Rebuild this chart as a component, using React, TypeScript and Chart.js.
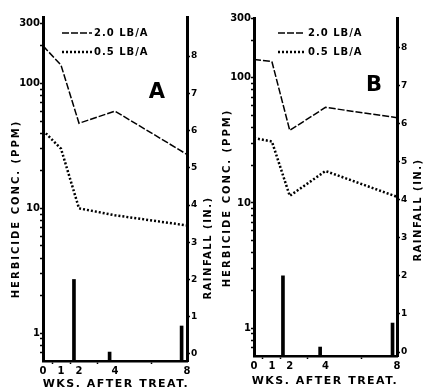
import React, { useEffect, useRef } from 'react';
import { Chart, registerables } from 'chart.js';

Chart.register(...registerables);

// ---------- data ----------
const WEEKS = [0, 1, 2, 4, 8];
const X_TICKS = [0, 1, 2, 4, 8];
const CONC_LABEL_TICKS = [1, 10, 100, 300];
const RAIN_TICKS = [0, 1, 2, 3, 4, 5, 6, 7, 8];
const SERIES_LABELS = ['2.0 LB/A', '0.5 LB/A'];

const A_HIGH = [200, 140, 48, 60, 27];
const A_LOW = [42, 30, 10, 8.8, 7.3];
const A_RAIN_WEEKS = [1.72, 3.7, 7.7];
const A_RAIN = [2.0, 0.05, 0.75];

const B_HIGH = [140, 135, 38, 58, 48];
const B_LOW = [33, 31, 11.4, 18, 11.2];
const B_RAIN_WEEKS = [1.62, 3.7, 7.75];
const B_RAIN = [2.0, 0.13, 0.76];

const Y_TITLE = 'HERBICIDE CONC. (PPM)';
const R_TITLE = 'RAINFALL (IN.)';
const X_TITLE = 'WKS. AFTER TREAT.';

// minor/major tick positions for the log axis (axis furniture, not data)
const CONC_ALL_TICKS: number[] = [];
[0.1, 1, 10, 100].forEach((d) => {
  for (let m = 1; m <= 9; m++) CONC_ALL_TICKS.push(+(m * d).toPrecision(3));
});

const FONT = '"DejaVu Sans", sans-serif';
const HIGH_DASH = [7, 2];
const LOW_DASH = [2, 2];

type Panel = {
  letter: string;
  width: number;
  leftW: number;
  rightW: number;
  bottomH: number;
  top: number;
  yMin: number;
  yMax: number;
  rMin: number;
  rMax: number;
  high: number[];
  low: number[];
  rainWeeks: number[];
  rain: number[];
  letterPos: [number, number];
  legendLine: [number, number];
  legendTextX: number;
  legendY: [number, number];
  leftTitle: [number, number];
  rightTitle: [number, number];
  xTitle: [number, number];
};

const PANELS: Panel[] = [
  {
    letter: 'A', width: 212, leftW: 43, rightW: 25, bottomH: 31, top: 17,
    yMin: 0.645, yMax: 340, rMin: -0.19, rMax: 9.05,
    high: A_HIGH, low: A_LOW, rainWeeks: A_RAIN_WEEKS, rain: A_RAIN,
    letterPos: [157, 93], legendLine: [62, 92], legendTextX: 94, legendY: [33, 52],
    leftTitle: [16, 209], rightTitle: [208, 248], xTitle: [116, 384],
  },
  {
    letter: 'B', width: 213, leftW: 42, rightW: 28, bottomH: 36, top: 18,
    yMin: 0.647, yMax: 300, rMin: -0.105, rMax: 8.77,
    high: B_HIGH, low: B_LOW, rainWeeks: B_RAIN_WEEKS, rain: B_RAIN,
    letterPos: [162, 86], legendLine: [66, 93], legendTextX: 96, legendY: [33, 52],
    leftTitle: [15, 198], rightTitle: [206, 210], xTitle: [113, 381],
  },
];

function makeConfig(p: Panel): any {
  const tickFont = { family: FONT, size: 10, weight: 'bold' as const };
  const overlay = {
    id: 'overlay' + p.letter,
    afterDraw(chart: any) {
      const ctx = chart.ctx as CanvasRenderingContext2D;
      ctx.save();
      ctx.fillStyle = '#000';
      ctx.strokeStyle = '#000';
      // legend
      const styles = [
        { dash: HIGH_DASH, w: 1.5 },
        { dash: LOW_DASH, w: 2.5 },
      ];
      SERIES_LABELS.forEach((lab, i) => {
        const y = p.legendY[i];
        ctx.beginPath();
        ctx.setLineDash(styles[i].dash);
        ctx.lineWidth = styles[i].w;
        ctx.moveTo(p.legendLine[0], y);
        ctx.lineTo(p.legendLine[1], y);
        ctx.stroke();
        ctx.setLineDash([]);
        ctx.font = `bold 10px ${FONT}`;
        (ctx as any).letterSpacing = '1px';
        ctx.textAlign = 'left';
        ctx.textBaseline = 'middle';
        ctx.fillText(lab, p.legendTextX, y);
      });
      // panel letter
      (ctx as any).letterSpacing = '0px';
      ctx.font = `bold 21px ${FONT}`;
      ctx.textAlign = 'center';
      ctx.textBaseline = 'middle';
      ctx.fillText(p.letter, p.letterPos[0], p.letterPos[1]);
      // axis titles
      ctx.font = `bold 10px ${FONT}`;
      const rot = (text: string, x: number, y: number) => {
        ctx.save();
        ctx.translate(x, y);
        ctx.rotate(-Math.PI / 2);
        ctx.textAlign = 'center';
        ctx.textBaseline = 'middle';
        ctx.fillText(text, 0, 0);
        ctx.restore();
      };
      (ctx as any).letterSpacing = '2px';
      rot(Y_TITLE, p.leftTitle[0], p.leftTitle[1]);
      (ctx as any).letterSpacing = '1.5px';
      rot(R_TITLE, p.rightTitle[0], p.rightTitle[1]);
      ctx.font = `bold 11px ${FONT}`;
      (ctx as any).letterSpacing = '1.5px';
      ctx.textAlign = 'center';
      ctx.textBaseline = 'middle';
      ctx.fillText(X_TITLE, p.xTitle[0], p.xTitle[1]);
      ctx.restore();
    },
  };

  return {
    type: 'line',
    data: {
      datasets: [
        {
          type: 'line',
          label: SERIES_LABELS[0],
          data: WEEKS.map((x, i) => ({ x, y: p.high[i] })),
          yAxisID: 'conc',
          borderColor: '#000',
          borderWidth: 1.5,
          borderDash: HIGH_DASH,
          pointRadius: 0,
          tension: 0,
        },
        {
          type: 'line',
          label: SERIES_LABELS[1],
          data: WEEKS.map((x, i) => ({ x, y: p.low[i] })),
          yAxisID: 'conc',
          borderColor: '#000',
          borderWidth: 2.5,
          borderDash: LOW_DASH,
          pointRadius: 0,
          tension: 0,
        },
        {
          type: 'bar',
          label: 'Rainfall',
          data: p.rainWeeks.map((x, i) => ({ x, y: p.rain[i] })),
          yAxisID: 'rain',
          backgroundColor: '#000',
          borderWidth: 0,
          barThickness: 3,
          base: p.rMin,
        },
      ],
    },
    options: {
      responsive: false,
      animation: false,
      layout: { padding: { top: p.top, left: 0, right: 0, bottom: 0 } },
      plugins: { legend: { display: false }, tooltip: { enabled: false }, title: { display: false } },
      scales: {
        x: {
          type: 'linear',
          min: 0,
          max: 8,
          offset: false,
          afterBuildTicks: (s: any) => { s.ticks = X_TICKS.map((v) => ({ value: v })); },
          afterFit: (s: any) => { s.height = p.bottomH; },
          grid: { drawOnChartArea: false, tickLength: 3, tickWidth: 1.5, tickColor: '#000' },
          border: { display: true, width: 2.5, color: '#000' },
          ticks: { font: tickFont, color: '#000', padding: 1, maxRotation: 0, autoSkip: false },
        },
        conc: {
          type: 'logarithmic',
          position: 'left',
          min: p.yMin,
          max: p.yMax,
          afterBuildTicks: (s: any) => {
            const t = CONC_ALL_TICKS.filter((v) => v >= p.yMin && v <= p.yMax);
            if (!t.includes(300) && 300 <= p.yMax) t.push(300);
            s.ticks = t.map((v) => ({ value: v }));
          },
          afterFit: (s: any) => { s.width = p.leftW; },
          grid: { drawOnChartArea: false, tickLength: 3, tickWidth: 1.5, tickColor: '#000' },
          border: { display: true, width: 3, color: '#000' },
          ticks: {
            font: tickFont,
            color: '#000',
            padding: 0,
            autoSkip: false,
            callback: (v: number) => (CONC_LABEL_TICKS.includes(+v) ? String(v) : ''),
          },
        },
        rain: {
          type: 'linear',
          position: 'right',
          min: p.rMin,
          max: p.rMax,
          afterBuildTicks: (s: any) => { s.ticks = RAIN_TICKS.map((v) => ({ value: v })); },
          afterFit: (s: any) => { s.width = p.rightW; },
          grid: { drawOnChartArea: false, tickLength: 3, tickWidth: 1.5, tickColor: '#000' },
          border: { display: true, width: 3, color: '#000' },
          ticks: { font: { family: FONT, size: 9, weight: 'bold' }, color: '#000', padding: 1, autoSkip: false },
        },
      },
    },
    plugins: [overlay],
  };
}

function PanelChart({ p, left }: { p: Panel; left: number }) {
  const ref = useRef<HTMLCanvasElement>(null);
  useEffect(() => {
    if (!ref.current) return;
    const chart = new Chart(ref.current, makeConfig(p));
    return () => chart.destroy();
  }, [p]);
  return (
    <canvas
      ref={ref}
      width={p.width}
      height={392}
      style={{ position: 'absolute', left, top: 0, width: p.width, height: 392 }}
    />
  );
}

export default function App() {
  useEffect(() => {
    document.body.style.margin = '0';
    document.body.style.background = '#fff';
  }, []);
  return (
    <div style={{ position: 'relative', width: 425, height: 392, background: '#fff', overflow: 'hidden' }}>
      <PanelChart p={PANELS[0]} left={0} />
      <PanelChart p={PANELS[1]} left={212} />
    </div>
  );
}
